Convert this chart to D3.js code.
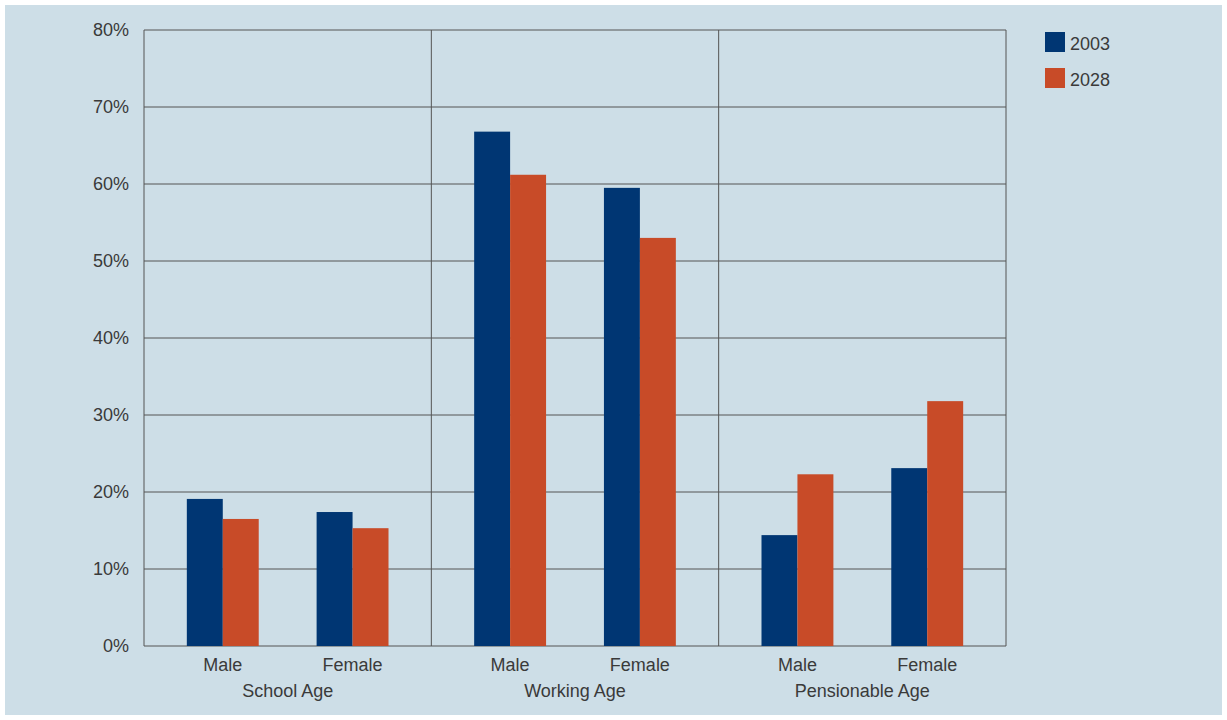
<!DOCTYPE html>
<html><head><meta charset="utf-8">
<script src="https://cdn.jsdelivr.net/npm/d3@7"></script>
<style>body{margin:0;background:#fff}text{font-family:"Liberation Sans",Arial,sans-serif;fill:#3a3a3a}</style>
</head><body><svg id="c" width="1227" height="720"></svg>
<script>
var groups = ["School Age", "Working Age", "Pensionable Age"];
var sexes = ["Male", "Female"];
var years = ["2003", "2028"];
var colors = ["#003673", "#c84b28"];
// values per group, per sex: [2003, 2028]
var values = [
  [[19.1, 16.5], [17.4, 15.3]],
  [[66.8, 61.2], [59.5, 53.0]],
  [[14.4, 22.3], [23.1, 31.8]]
];
var ticks = [0, 10, 20, 30, 40, 50, 60, 70, 80];

var svg = d3.select("#c");
svg.append("rect").attr("x", 5).attr("y", 5).attr("width", 1217).attr("height", 710).attr("fill", "#cddee7");

var L = 144, R = 1006, T = 30, B = 646;
var y = d3.scaleLinear().domain([0, 80]).range([B, T]);
var gx = d3.scaleBand().domain(groups).range([L, R]);
var sx = d3.scaleBand().domain(sexes).range([0, gx.bandwidth()]).paddingInner(0.446).paddingOuter(0.33);
var yx = d3.scaleBand().domain(years).range([0, sx.bandwidth()]);

// grid
svg.selectAll(".grid").data(ticks).join("line")
  .attr("x1", L).attr("x2", R).attr("y1", d => y(d)).attr("y2", d => y(d))
  .attr("stroke", "#555").attr("stroke-width", 1);
svg.selectAll(".tl").data(ticks).join("text")
  .attr("x", 129).attr("y", d => y(d) + 6).attr("text-anchor", "end")
  .attr("font-size", 18).text(d => d + "%");
// vertical separators
svg.selectAll(".sep").data([L].concat(groups.map(g => gx(g) + gx.bandwidth()))).join("line")
  .attr("x1", d => d).attr("x2", d => d).attr("y1", T).attr("y2", B)
  .attr("stroke", "#555");

var g = svg.selectAll(".grp").data(groups).join("g").attr("transform", d => "translate(" + gx(d) + ",0)");
g.each(function (gn, gi) {
  var sel = d3.select(this);
  sexes.forEach(function (s, si) {
    years.forEach(function (yr, yi) {
      var v = values[gi][si][yi];
      sel.append("rect").attr("x", sx(s) + yx(yr)).attr("width", yx.bandwidth())
        .attr("y", y(v)).attr("height", B - y(v)).attr("fill", colors[yi]);
    });
    sel.append("text").attr("x", sx(s) + sx.bandwidth() / 2).attr("y", 671)
      .attr("text-anchor", "middle").attr("font-size", 18).text(s);
  });
  sel.append("text").attr("x", gx.bandwidth() / 2).attr("y", 697)
    .attr("text-anchor", "middle").attr("font-size", 18).text(gn);
});

// legend
years.forEach(function (yr, i) {
  svg.append("rect").attr("x", 1045).attr("y", 32 + i * 36).attr("width", 20).attr("height", 20).attr("fill", colors[i]);
  svg.append("text").attr("x", 1070).attr("y", 50 + i * 36).attr("font-size", 18).text(yr);
});
</script></body></html>
